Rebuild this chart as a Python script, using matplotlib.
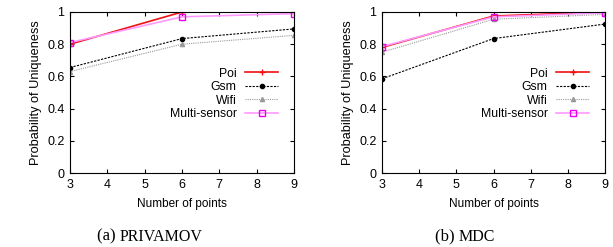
import matplotlib
matplotlib.use("Agg")
import matplotlib.pyplot as plt

plt.rcParams['font.family'] = ['Liberation Sans', 'DejaVu Sans']

points = [3, 6, 9]
series_names = ["Poi", "Gsm", "Wifi", "Multi-sensor"]

# (a) PRIVAMOV
privamov_poi = [0.80, 1.00, 1.00]
privamov_gsm = [0.655, 0.835, 0.895]
privamov_wifi = [0.63, 0.80, 0.855]
privamov_multi = [0.81, 0.97, 0.99]

# (b) MDC
mdc_poi = [0.78, 0.975, 1.00]
mdc_gsm = [0.585, 0.835, 0.925]
mdc_wifi = [0.75, 0.955, 0.985]
mdc_multi = [0.785, 0.97, 0.995]

styles = [
    dict(color='#ee1111', ls='-', marker='+', ms=5, lw=1.2),
    dict(color='black', ls=(0, (2, 1.2)), marker='o', ms=3, lw=0.8),
    dict(color='#999999', ls=(0, (1, 1)), marker='^', ms=3, lw=0.8),
    dict(color='#ff99ff', ls='-', marker='s', ms=4, lw=1.2, mec='#ee00ee', mfc='none'),
]


def draw_panel(ax, values, tag, name, cap_x):
    for label, ys, st in zip(series_names, values, styles):
        ax.plot(points, ys, label=label, **st)
    ax.set_xlim(3, 9)
    ax.set_ylim(0, 1)
    ax.set_xticks(range(3, 10))
    ax.set_yticks([0, 0.2, 0.4, 0.6, 0.8, 1])
    ax.set_yticklabels(['0', '0.2', '0.4', '0.6', '0.8', '1'])
    ax.tick_params(direction='in', top=True, right=True, labelsize=9, length=3, pad=4)
    ax.set_xlabel('Number of points', fontsize=8.5, labelpad=5)
    ax.set_ylabel('Probability of Uniqueness', fontsize=9.2, labelpad=4)
    ax.legend(loc='upper right', bbox_to_anchor=(0.951, 0.685), frameon=False,
              markerfirst=False, fontsize=8.8, handlelength=2.7, labelspacing=0.12,
              borderaxespad=0, handletextpad=0.7)
    t = fig.text(cap_x / 613, 0.025, tag + ' ', fontsize=12, family='Liberation Serif',
                 ha='left', va='baseline')
    ax.annotate(name, xy=(1, 0), xycoords=t, fontsize=11.5, family='Liberation Serif',
                ha='left', va='bottom')


fig = plt.figure(figsize=(6.13, 2.47), dpi=100)
ax1 = fig.add_axes([70 / 613, 1 - 173 / 247, 224 / 613, 161 / 247])
ax2 = fig.add_axes([382 / 613, 1 - 173 / 247, 223 / 613, 161 / 247])

draw_panel(ax1, [privamov_poi, privamov_gsm, privamov_wifi, privamov_multi], '(a)', 'PRIVAMOV', 97)
draw_panel(ax2, [mdc_poi, mdc_gsm, mdc_wifi, mdc_multi], '(b)', 'MDC', 435)

fig.savefig('out.png', dpi=100)
